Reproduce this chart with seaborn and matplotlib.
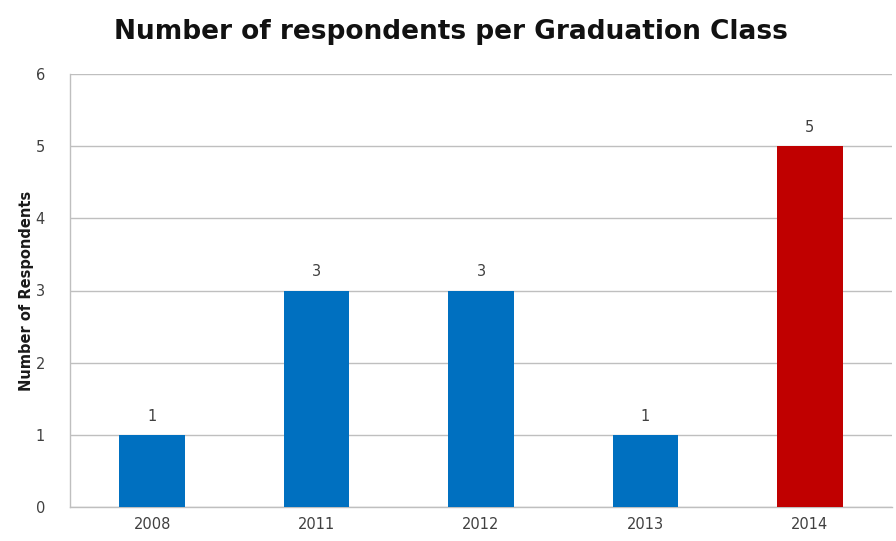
import matplotlib
matplotlib.use("Agg")
import matplotlib.pyplot as plt
import seaborn as sns
import pandas as pd

years = ["2008", "2011", "2012", "2013", "2014"]
respondents = [1, 3, 3, 1, 5]
bar_colors = ["#0070C0", "#0070C0", "#0070C0", "#0070C0", "#C00000"]
y_ticks = [0, 1, 2, 3, 4, 5, 6]

sns.set_theme(style="white")
plt.rcParams["font.family"] = ["DejaVu Sans"]

df = pd.DataFrame({"year": years, "count": respondents})

fig = plt.figure(figsize=(8.96, 5.41), dpi=100)
ax = fig.add_axes([70 / 896, 34 / 541, 822 / 896, 433 / 541])

sns.barplot(data=df, x="year", y="count", hue="year", palette=bar_colors,
            legend=False, width=0.4, saturation=1, linewidth=0, ax=ax, zorder=3)

ax.set_ylim(0, 6)
ax.set_xlim(-0.5, 4.5)
ax.set_yticks(y_ticks)
ax.yaxis.grid(True, color="#BFBFBF", linewidth=1, zorder=0)
ax.set_axisbelow(True)

for side in ["top", "right"]:
    ax.spines[side].set_visible(False)
for side in ["left", "bottom"]:
    ax.spines[side].set_color("#BFBFBF")
    ax.spines[side].set_linewidth(1)

ax.tick_params(axis="both", length=0, labelsize=10.5, labelcolor="#404040")
ax.tick_params(axis="y", pad=18)
ax.tick_params(axis="x", pad=7)
ax.set_xlabel("")
ax.set_ylabel("Number of Respondents", fontsize=10.5, fontweight="bold",
              color="#1a1a1a", labelpad=1)

for i, v in enumerate(respondents):
    ax.annotate(str(v), (i, v), xytext=(0, 8), textcoords="offset points",
                ha="center", va="bottom", fontsize=10.5, color="#404040")

fig.suptitle("Number of respondents per Graduation Class", x=451 / 896,
             y=1 - 32 / 541, va="center", fontsize=19, fontweight="bold",
             color="#111111")

fig.savefig("out.png", dpi=100)
